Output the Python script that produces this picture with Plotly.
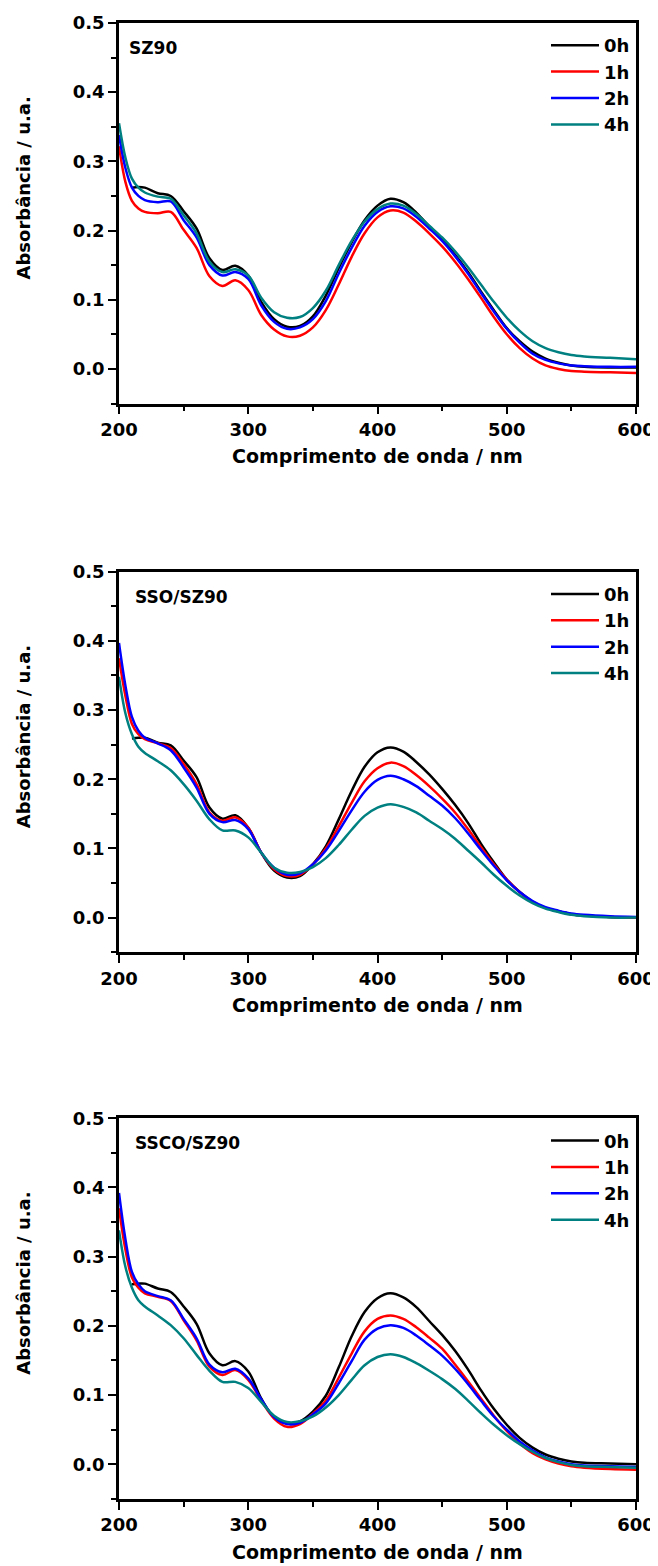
import plotly.graph_objects as go

W, H = 658, 1566

wavelength = [200, 205, 210, 215, 220, 230, 240, 250, 260, 270, 280, 290, 300, 310, 320, 330,
              340, 350, 360, 370, 380, 390, 400, 410, 420, 430, 440, 450, 460, 470, 480, 490,
              500, 510, 520, 530, 540, 550, 560, 580, 600]

series_names = ["0h", "1h", "2h", "4h"]
series_colors = ["#000000", "#FF0000", "#0000FF", "#008080"]
panel_labels = ["SZ90", "SSO/SZ90", "SSCO/SZ90"]

# ---- SZ90 ----
sz90_0h = [None, None, 0.262, 0.263, 0.262, 0.254, 0.250, 0.228, 0.203, 0.160, 0.143, 0.149, 0.135, 0.097, 0.072, 0.061,
           0.062, 0.076, 0.106, 0.146, 0.183, 0.215, 0.236, 0.246, 0.241, 0.226, 0.206, 0.187, 0.165, 0.140, 0.112, 0.085,
           0.059, 0.040, 0.025, 0.015, 0.009, 0.005, 0.003, 0.002, 0.002]
sz90_1h = [0.322, 0.270, 0.243, 0.232, 0.227, 0.225, 0.227, 0.201, 0.175, 0.134, 0.120, 0.128, 0.114, 0.078, 0.057, 0.047,
           0.048, 0.060, 0.085, 0.122, 0.162, 0.196, 0.219, 0.229, 0.226, 0.213, 0.196, 0.177, 0.155, 0.130, 0.103, 0.075,
           0.050, 0.030, 0.015, 0.005, 0.000, -0.003, -0.004, -0.005, -0.006]
sz90_2h = [0.338, 0.290, 0.262, 0.250, 0.244, 0.241, 0.242, 0.215, 0.190, 0.150, 0.135, 0.140, 0.130, 0.092, 0.068, 0.058,
           0.060, 0.072, 0.098, 0.138, 0.175, 0.207, 0.227, 0.235, 0.232, 0.220, 0.203, 0.185, 0.163, 0.138, 0.110, 0.083,
           0.058, 0.038, 0.022, 0.013, 0.008, 0.005, 0.004, 0.003, 0.003]
sz90_4h = [0.355, 0.305, 0.275, 0.262, 0.255, 0.249, 0.246, 0.222, 0.196, 0.155, 0.140, 0.144, 0.135, 0.103, 0.082, 0.074,
           0.075, 0.088, 0.113, 0.150, 0.185, 0.213, 0.231, 0.239, 0.236, 0.224, 0.207, 0.190, 0.170, 0.147, 0.122, 0.097,
           0.074, 0.055, 0.040, 0.030, 0.024, 0.020, 0.018, 0.016, 0.014]

# ---- SSO/SZ90 ----
sso_0h = [None, None, 0.259, 0.260, 0.260, 0.253, 0.249, 0.227, 0.203, 0.159, 0.143, 0.148, 0.130, 0.094, 0.068, 0.058,
          0.060, 0.077, 0.103, 0.142, 0.183, 0.218, 0.239, 0.246, 0.240, 0.225, 0.207, 0.186, 0.163, 0.137, 0.107, 0.080,
          0.055, 0.037, 0.023, 0.014, 0.009, 0.005, 0.003, 0.001, 0.000]
sso_1h = [0.375, 0.320, 0.280, 0.265, 0.258, 0.252, 0.245, 0.222, 0.193, 0.152, 0.140, 0.145, 0.130, 0.094, 0.070, 0.060,
          0.062, 0.077, 0.100, 0.132, 0.166, 0.197, 0.216, 0.224, 0.219, 0.206, 0.190, 0.172, 0.152, 0.128, 0.102, 0.077,
          0.055, 0.037, 0.023, 0.014, 0.009, 0.005, 0.003, 0.001, 0.000]
sso_2h = [0.397, 0.335, 0.290, 0.270, 0.260, 0.252, 0.242, 0.217, 0.188, 0.150, 0.138, 0.141, 0.128, 0.094, 0.072, 0.062,
          0.064, 0.077, 0.097, 0.125, 0.155, 0.182, 0.199, 0.205, 0.200, 0.190, 0.176, 0.162, 0.144, 0.122, 0.098, 0.075,
          0.054, 0.037, 0.024, 0.015, 0.010, 0.006, 0.004, 0.002, 0.001]
sso_4h = [0.348, 0.295, 0.265, 0.247, 0.238, 0.226, 0.213, 0.193, 0.169, 0.142, 0.126, 0.126, 0.116, 0.094, 0.072, 0.065,
          0.066, 0.073, 0.086, 0.105, 0.127, 0.147, 0.159, 0.164, 0.160, 0.152, 0.140, 0.128, 0.114, 0.097, 0.080, 0.062,
          0.046, 0.032, 0.021, 0.013, 0.008, 0.004, 0.002, 0.000, 0.000]

# ---- SSCO/SZ90 ----
ssco_0h = [None, None, 0.260, 0.261, 0.261, 0.254, 0.249, 0.228, 0.203, 0.160, 0.143, 0.149, 0.134, 0.095, 0.068, 0.059,
           0.062, 0.076, 0.099, 0.140, 0.185, 0.220, 0.240, 0.247, 0.241, 0.227, 0.207, 0.187, 0.164, 0.137, 0.107, 0.080,
           0.057, 0.038, 0.024, 0.014, 0.008, 0.004, 0.002, 0.001, 0.000]
ssco_1h = [0.370, 0.310, 0.270, 0.255, 0.247, 0.242, 0.236, 0.208, 0.179, 0.141, 0.129, 0.136, 0.122, 0.092, 0.066, 0.054,
           0.058, 0.073, 0.092, 0.125, 0.160, 0.192, 0.210, 0.215, 0.210, 0.198, 0.183, 0.167, 0.144, 0.120, 0.095, 0.070,
           0.048, 0.030, 0.016, 0.007, 0.001, -0.003, -0.005, -0.007, -0.008]
ssco_2h = [0.392, 0.325, 0.278, 0.260, 0.250, 0.243, 0.237, 0.210, 0.182, 0.144, 0.133, 0.138, 0.124, 0.094, 0.068, 0.058,
           0.060, 0.072, 0.088, 0.117, 0.149, 0.180, 0.196, 0.201, 0.197, 0.186, 0.172, 0.157, 0.138, 0.116, 0.092, 0.069,
           0.050, 0.033, 0.020, 0.010, 0.004, 0.000, -0.002, -0.003, -0.004]
ssco_4h = [0.338, 0.285, 0.255, 0.237, 0.228, 0.215, 0.201, 0.182, 0.158, 0.135, 0.119, 0.119, 0.110, 0.090, 0.070, 0.061,
           0.062, 0.069, 0.082, 0.100, 0.122, 0.143, 0.155, 0.159, 0.155, 0.146, 0.135, 0.123, 0.109, 0.092, 0.074, 0.057,
           0.042, 0.029, 0.018, 0.009, 0.003, -0.001, -0.003, -0.004, -0.005]

panels = [
    [sz90_0h, sz90_1h, sz90_2h, sz90_4h],
    [sso_0h, sso_1h, sso_2h, sso_4h],
    [ssco_0h, ssco_1h, ssco_2h, ssco_4h],
]

# ---- layout geometry (page pixels) ----
plot_left, plot_right = 119, 636
panel_tops = [23, 571.7, 1118.3]
panel_h = 380.5
label_left = [127, 133, 133]

FONT = "DejaVu Sans"
PAGE_OFFSET = 8  # default body margin of the written html page


def px_x(p):
    return (p - PAGE_OFFSET) / W


def px_y(p):
    return 1 - (p - PAGE_OFFSET) / H


fig = go.Figure()
annotations = []

for i, (series_set, top) in enumerate(zip(panels, panel_tops)):
    n = "" if i == 0 else str(i + 1)
    leg = "legend" if i == 0 else f"legend{i + 1}"
    for name, color, ys in zip(series_names, series_colors, series_set):
        fig.add_trace(go.Scatter(
            x=wavelength, y=ys, name=name, mode="lines",
            line=dict(color=color, width=2.5, shape="spline", smoothing=1.0),
            xaxis="x" + n, yaxis="y" + n, legend=leg, connectgaps=False,
        ))

    bottom = top + panel_h
    axis_common = dict(
        showline=True, linewidth=2.5, linecolor="black", mirror=True,
        showgrid=False, zeroline=False, automargin=False,
        ticks="outside", ticklen=8, tickwidth=2, tickcolor="black",
        tickfont=dict(family=FONT, size=18, color="black", weight="bold"),
    )
    fig.update_layout(**{
        "xaxis" + n: dict(
            domain=[px_x(plot_left), px_x(plot_right)],
            anchor="y" + n, range=[200, 600], dtick=100, tick0=200,
            minor=dict(ticks="outside", ticklen=5, tickwidth=2, dtick=50, tickcolor="black"),
            **axis_common),
        "yaxis" + n: dict(
            domain=[px_y(bottom), px_y(top)],
            anchor="x" + n, range=[-0.05, 0.5], dtick=0.1, tick0=0, tickformat=".1f",
            minor=dict(ticks="outside", ticklen=5, tickwidth=2, dtick=0.05, tickcolor="black"),
            **axis_common),
        leg: dict(
            x=px_x(546), xanchor="left", y=px_y(top + 4), yanchor="top",
            bgcolor="rgba(0,0,0,0)", borderwidth=0,
            font=dict(family=FONT, size=18, color="black", weight="bold"),
            itemwidth=48, tracegroupgap=0,
        ),
    })

    annotations.append(dict(
        text=panel_labels[i], x=px_x(label_left[i]), y=px_y(top + 25),
        xref="paper", yref="paper", xanchor="left", yanchor="middle", showarrow=False,
        font=dict(family=FONT, size=17, color="black", weight="bold")))
    annotations.append(dict(
        text="Comprimento de onda / nm", x=px_x((plot_left + plot_right) / 2), y=px_y(bottom + 53),
        xref="paper", yref="paper", xanchor="center", yanchor="middle", showarrow=False,
        font=dict(family=FONT, size=19, color="black", weight="bold")))
    annotations.append(dict(
        text="Absorbância / u.a.", x=px_x(23.5), y=px_y(top + 165),
        xref="paper", yref="paper", xanchor="center", yanchor="middle", showarrow=False,
        textangle=-90,
        font=dict(family=FONT, size=18, color="black", weight="bold")))

fig.update_layout(
    template="none",
    width=W, height=H,
    margin=dict(l=0, r=0, t=0, b=0, autoexpand=False),
    paper_bgcolor="white", plot_bgcolor="white",
    annotations=annotations,
    showlegend=True,
)

fig.write_html("out.html")
